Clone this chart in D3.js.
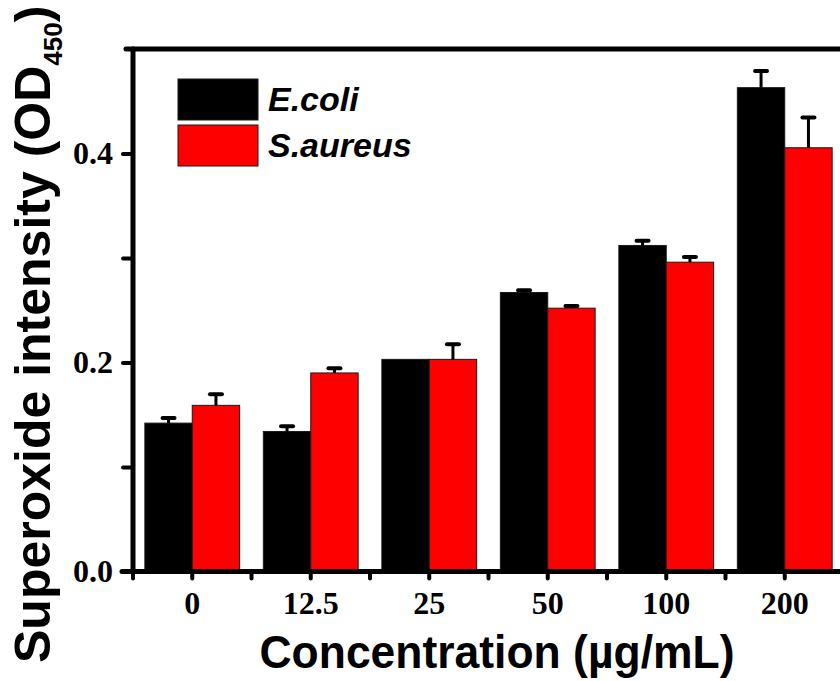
<!DOCTYPE html>
<html>
<head>
<meta charset="utf-8">
<script src="https://cdn.jsdelivr.net/npm/d3@7"></script>
<style>
body { margin: 0; background: #fff; }
</style>
</head>
<body>
<div id="chart"></div>
<script>
var concentrations = ["0", "12.5", "25", "50", "100", "200"]
var seriesNames = ["E.coli", "S.aureus"]
var ecoliValues = [0.142, 0.134, 0.203, 0.267, 0.312, 0.463]
var ecoliErrors = [0.005, 0.005, 0, 0.0022, 0.0045, 0.016]
var aureusValues = [0.159, 0.190, 0.203, 0.252, 0.296, 0.4055]
var aureusErrors = [0.0105, 0.0045, 0.0145, 0.002, 0.005, 0.029]
var yTicks = [0, 0.1, 0.2, 0.3, 0.4]
var yLabels = ["0.0", "", "0.2", "", "0.4"]
var colors = ["#000000", "#ff0000"]

var width = 840
var height = 681

var svg = d3.select("#chart").append("svg")
.attr("width", width)
.attr("height", height)

var x = d3.scaleBand()
.domain(concentrations)
.range([133, 844])
.paddingInner(0.2)
.paddingOuter(0.1)

var xSub = d3.scaleBand()
.domain(seriesNames)
.range([0, x.bandwidth()])

var y = d3.scaleLinear()
.domain([0, 0.5])
.range([571.5, 49])

var color = d3.scaleOrdinal().domain(seriesNames).range(colors)

var rows = []
concentrations.forEach(function (c, i) {
	rows.push({cat: c, key: seriesNames[0], value: ecoliValues[i], err: ecoliErrors[i]})
	rows.push({cat: c, key: seriesNames[1], value: aureusValues[i], err: aureusErrors[i]})
})

// bars
svg.selectAll("rect.bar")
.data(rows)
.enter()
.append("rect")
.attr("class", "bar")
.attr("x", d => x(d.cat) + xSub(d.key))
.attr("y", d => y(d.value))
.attr("width", xSub.bandwidth())
.attr("height", d => y(0) - y(d.value))
.attr("fill", d => color(d.key))
.attr("stroke", "#1a1a1a")
.attr("stroke-width", 1)

// error bars (upper only)
var errs = svg.selectAll("g.err")
.data(rows.filter(d => d.err > 0))
.enter()
.append("g")
.attr("class", "err")
.attr("transform", d => "translate(" + (x(d.cat) + xSub(d.key) + xSub.bandwidth() / 2) + ",0)")

errs.append("line")
.attr("x1", 0).attr("x2", 0)
.attr("y1", d => y(d.value))
.attr("y2", d => y(d.value + d.err))
.attr("stroke", "#000")
.attr("stroke-width", 3)

errs.append("line")
.attr("x1", -6).attr("x2", 6)
.attr("y1", d => y(d.value + d.err))
.attr("y2", d => y(d.value + d.err))
.attr("stroke", "#000")
.attr("stroke-width", 4)
.attr("stroke-linecap", "round")

// y axis ticks + labels
var yAxis = svg.append("g")
.attr("transform", "translate(133,0)")
.call(d3.axisLeft(y).tickValues(yTicks).tickSize(10).tickPadding(10).tickFormat((d, i) => yLabels[i]))

yAxis.select(".domain").remove()
yAxis.selectAll(".tick line")
.attr("stroke", "#000")
.attr("stroke-width", 4)
.attr("stroke-linecap", "round")
yAxis.selectAll(".tick text")
.attr("font-family", "'Liberation Serif', 'Times New Roman', serif")
.attr("font-weight", "bold")
.attr("font-size", 32)
.attr("fill", "#000")
.attr("dy", "0.32em")

// x axis: major ticks at group centres, minor between groups
var xAxis = svg.append("g")
.attr("transform", "translate(0," + y(0) + ")")
.call(d3.axisBottom(x).tickSize(7).tickPadding(13))

xAxis.select(".domain").remove()
xAxis.selectAll(".tick line")
.attr("stroke", "#000")
.attr("stroke-width", 4)
.attr("stroke-linecap", "round")
xAxis.selectAll(".tick text")
.attr("font-family", "'Liberation Serif', 'Times New Roman', serif")
.attr("font-weight", "bold")
.attr("font-size", 32)
.attr("fill", "#000")

var gap = x.step() * x.paddingInner() / 2
svg.selectAll("line.minor")
.data(concentrations)
.enter()
.append("line")
.attr("class", "minor")
.attr("x1", d => x(d) - gap)
.attr("x2", d => x(d) - gap)
.attr("y1", y(0))
.attr("y2", y(0) + 7)
.attr("stroke", "#000")
.attr("stroke-width", 4)
.attr("stroke-linecap", "round")

// frame lines
var frame = [
	[[126, y(0.5)], [850, y(0.5)]],
	[[133, y(0.5)], [133, y(0)]],
	[[122, y(0)], [850, y(0)]]
]
svg.selectAll("path.frame")
.data(frame)
.enter()
.append("path")
.attr("class", "frame")
.attr("d", d => d3.line()(d))
.attr("stroke", "#000")
.attr("stroke-width", 5)
.attr("stroke-linecap", "round")
.attr("fill", "none")

// legend
var legend = svg.selectAll("g.legend")
.data(seriesNames)
.enter()
.append("g")
.attr("class", "legend")
.attr("transform", (d, i) => "translate(178," + (79 + i * 46) + ")")

legend.append("rect")
.attr("width", 80)
.attr("height", 41)
.attr("fill", d => color(d))
.attr("stroke", "#1a1a1a")
.attr("stroke-width", 1)

legend.append("text")
.attr("x", 90)
.attr("y", 32)
.attr("font-family", "'Liberation Sans', Arial, sans-serif")
.attr("font-weight", "bold")
.attr("font-style", "italic")
.attr("font-size", 34)
.attr("fill", "#000")
.text(d => d)

// axis titles
svg.append("text")
.attr("x", 497)
.attr("y", 668)
.attr("text-anchor", "middle")
.attr("font-family", "'Liberation Sans', Arial, sans-serif")
.attr("font-weight", "bold")
.attr("font-size", 47)
.attr("textLength", 475)
.attr("lengthAdjust", "spacingAndGlyphs")
.attr("fill", "#000")
.text("Concentration (\u00b5g/mL)")

var yTitle = svg.append("text")
.attr("transform", "translate(50,663) rotate(-90)")
.attr("text-anchor", "start")
.attr("font-family", "'Liberation Sans', Arial, sans-serif")
.attr("font-weight", "bold")
.attr("font-size", 50)
.attr("fill", "#000")

yTitle.append("tspan").text("Superoxide intensity (OD")
yTitle.append("tspan").attr("font-size", 26).attr("dy", 12).text("450")
yTitle.append("tspan").attr("dy", -12).text(")")
</script>
</body>
</html>
